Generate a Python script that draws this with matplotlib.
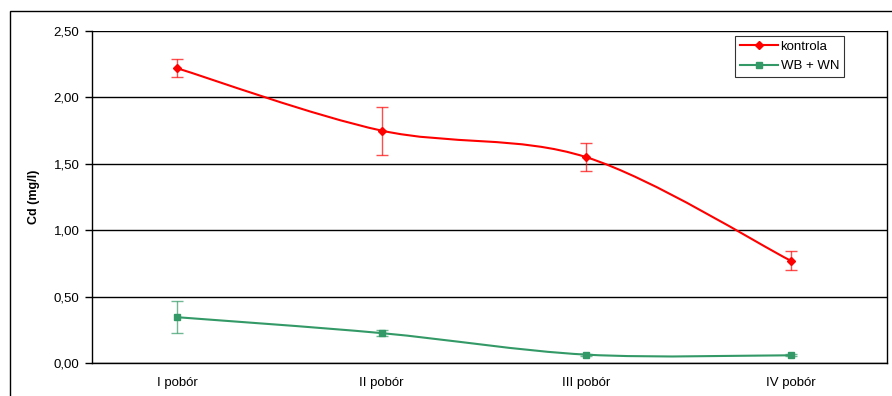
import matplotlib
matplotlib.use("Agg")
import numpy as np
import matplotlib.pyplot as plt
from matplotlib.path import Path
from matplotlib.patches import PathPatch, Rectangle
from matplotlib.lines import Line2D

plt.rcParams['font.family'] = ['Liberation Sans', 'DejaVu Sans']

# data
categories = ['I pobór', 'II pobór', 'III pobór', 'IV pobór']
kontrola = [2.22, 1.75, 1.55, 0.77]
kontrola_err = [0.07, 0.18, 0.105, 0.07]
wbwn = [0.345, 0.225, 0.063, 0.058]
wbwn_err = [0.12, 0.025, 0.008, 0.008]
yticks = [0.0, 0.5, 1.0, 1.5, 2.0, 2.5]

RED = '#FF0000'
GREEN = '#339966'


def smooth_path(xs, ys):
    """Excel-like smoothed line as Bezier segments through the points."""
    pts = np.column_stack([xs, ys])
    n = len(pts)
    verts = [pts[0]]
    codes = [Path.MOVETO]
    for i in range(n - 1):
        p0 = pts[i - 1] if i > 0 else pts[i]
        p1 = pts[i]
        p2 = pts[i + 1]
        p3 = pts[i + 2] if i + 2 < n else pts[i + 1]
        c1 = p1 + (p2 - p0) / 6.0
        c2 = p2 - (p3 - p1) / 6.0
        verts += [c1, c2, p2]
        codes += [Path.CURVE4] * 3
    return Path(verts, codes)


fig = plt.figure(figsize=(8.92, 3.96), dpi=100)
ax = fig.add_axes([92 / 892, 33 / 396, 795 / 892, 332 / 396])

x = np.arange(len(categories))

for vals, errs, color, marker, ms in [(kontrola, kontrola_err, RED, 'D', 4.5),
                                      (wbwn, wbwn_err, GREEN, 's', 4.5)]:
    ax.add_patch(PathPatch(smooth_path(x, vals), facecolor='none',
                           edgecolor=color, lw=1.5, zorder=3))
    ax.errorbar(x, vals, yerr=errs, fmt='none', ecolor=color, elinewidth=1,
                capsize=4.5, capthick=1, alpha=0.7, zorder=3)
    ax.plot(x, vals, linestyle='none', marker=marker, color=color,
            markersize=ms, zorder=4)

ax.set_xlim(-0.415, 3.47)
ax.set_ylim(0, 2.5)
ax.set_yticks(yticks)
ax.set_yticklabels([('%.2f' % v).replace('.', ',') for v in yticks], fontsize=9.5)
ax.set_xticks(x)
ax.set_xticklabels(categories, fontsize=9.5)
ax.tick_params(axis='x', length=0, pad=10)
ax.tick_params(axis='y', length=5, width=1, pad=4)
ax.yaxis.grid(True, color='black', lw=1)
ax.set_axisbelow(True)
for s in ['left', 'bottom', 'right']:
    ax.spines[s].set_color('black')
    ax.spines[s].set_linewidth(1)
ax.spines['top'].set_visible(False)
ax.set_ylabel('Cd (mg/l)', fontsize=9, fontweight='bold', labelpad=10)

handles = [Line2D([], [], color=RED, lw=1.5, marker='D', markersize=4.5),
           Line2D([], [], color=GREEN, lw=1.5, marker='s', markersize=4.5)]
leg = fig.legend(handles, ['kontrola', 'WB + WN'], loc='upper left',
                 bbox_to_anchor=(735 / 892, 1 - 36 / 396), fontsize=9.5,
                 frameon=True, fancybox=False, edgecolor='black',
                 handlelength=2.9, handletextpad=0.2, borderpad=0.35,
                 labelspacing=0.55, borderaxespad=0)
leg.get_frame().set_linewidth(0.8)

# outer chart frame
fig.add_artist(Rectangle((10 / 892, -0.1), 1.2, 1.1 - 11 / 396,
                         transform=fig.transFigure, fill=False,
                         edgecolor='black', lw=1, clip_on=False))

fig.savefig('out.png', dpi=100)
